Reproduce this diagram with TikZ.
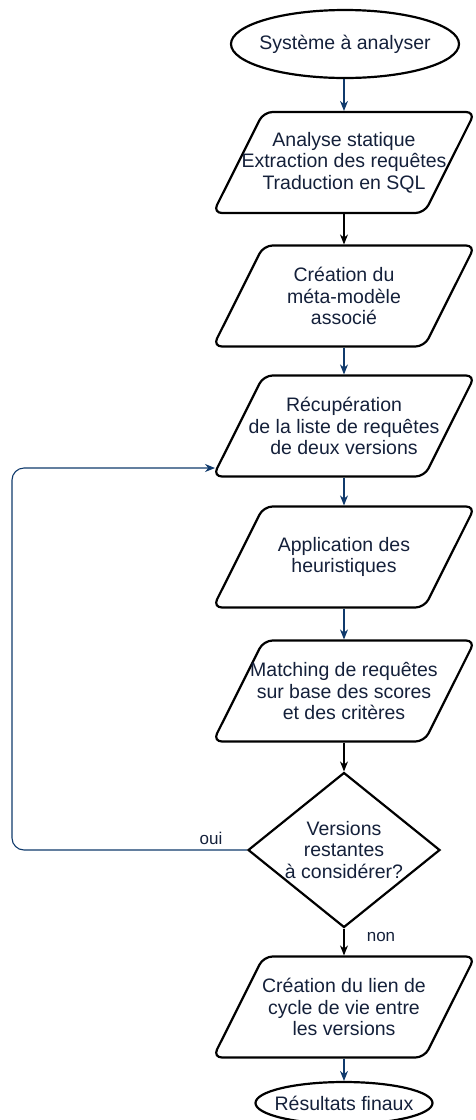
\documentclass[tikz,border=0pt]{standalone}
\usepackage{fontspec}
\setmainfont{Liberation Sans}
\usetikzlibrary{shapes.geometric,arrows.meta}

\definecolor{linkblue}{RGB}{16,58,108}
\definecolor{textnavy}{RGB}{20,32,58}

\begin{document}
\begin{tikzpicture}[x=1pt,y=-1pt,
  terminal/.style={ellipse,draw=black,line width=2.2pt,inner sep=-12pt,text=textnavy,font=\fontsize{19.5}{21.7}\selectfont},
  iotext/.style={align=center,text=textnavy,font=\fontsize{19.5}{21.7}\selectfont},
  io/.style={trapezium,trapezium left angle=63.4,trapezium right angle=116.6,trapezium stretches body,draw=black,line width=2.2pt,rounded corners=9pt,minimum width=262pt,inner xsep=0pt,inner ysep=50.5pt,label={[iotext]center:{#1}}},
  decision/.style={diamond,aspect=1.24,draw=black,line width=2.2pt,minimum width=192pt,minimum height=155pt,inner sep=-6pt,align=center,text=textnavy,font=\fontsize{19.5}{21.7}\selectfont},
  lbl/.style={text=textnavy,font=\fontsize{17}{20}\selectfont},
  link/.style={draw=linkblue,line width=1.1pt,-{Stealth[length=10pt,width=8pt]}},
  plainlink/.style={link,draw=black}]

\useasboundingbox (0,0) rectangle (475,1120);

% Start and end of the chain
\node[terminal,minimum width=228pt,minimum height=68pt] (start) at (345,44) {Système à analyser};
\node[terminal,minimum width=177pt,minimum height=42pt] (stop) at (344,1103) {Résultats finaux};

% Processing steps
\node[io={Analyse statique\\Extraction des requêtes\\Traduction en SQL}] (static) at (344,162.5) {};
\node[io={Création du\\méta-modèle\\associé}] (meta) at (344,296) {};
\node[io={Récupération\\de la liste de requêtes\\de deux versions}] (fetch) at (344,426) {};
\node[io={Application des\\heuristiques}] (heur) at (344,557) {};
\node[io={Matching de requêtes\\sur base des scores\\et des critères}] (match) at (344,691) {};
\node[decision] (more) at (344,850) {Versions\\restantes\\à considérer?};
\node[io={Création du lien de\\cycle de vie entre\\les versions}] (life) at (344,1007) {};

% Branch labels
\node[lbl] (oui) at (211,838) {oui};
\node[lbl] (non) at (381,937) {non};

% Arrows down the chain
\draw[link] (start.south -| static.north) -- (static.north);
\draw[plainlink] (static.south) -- (meta.north);
\draw[link] (meta.south) -- (fetch.north);
\draw[link] (fetch.south) -- (heur.north);
\draw[link] (heur.south) -- (match.north);
\draw[plainlink] (match.south) -- (more.north);
\draw[plainlink] (more.south) -- (life.north);
\draw[link] (life.south) -- (stop.north);

% The loop back
\coordinate (loopin) at (215,468);
\draw[link,rounded corners=12pt] (more.west) -- (12,850) -- (12,468) -- (loopin);

\end{tikzpicture}
\end{document}
